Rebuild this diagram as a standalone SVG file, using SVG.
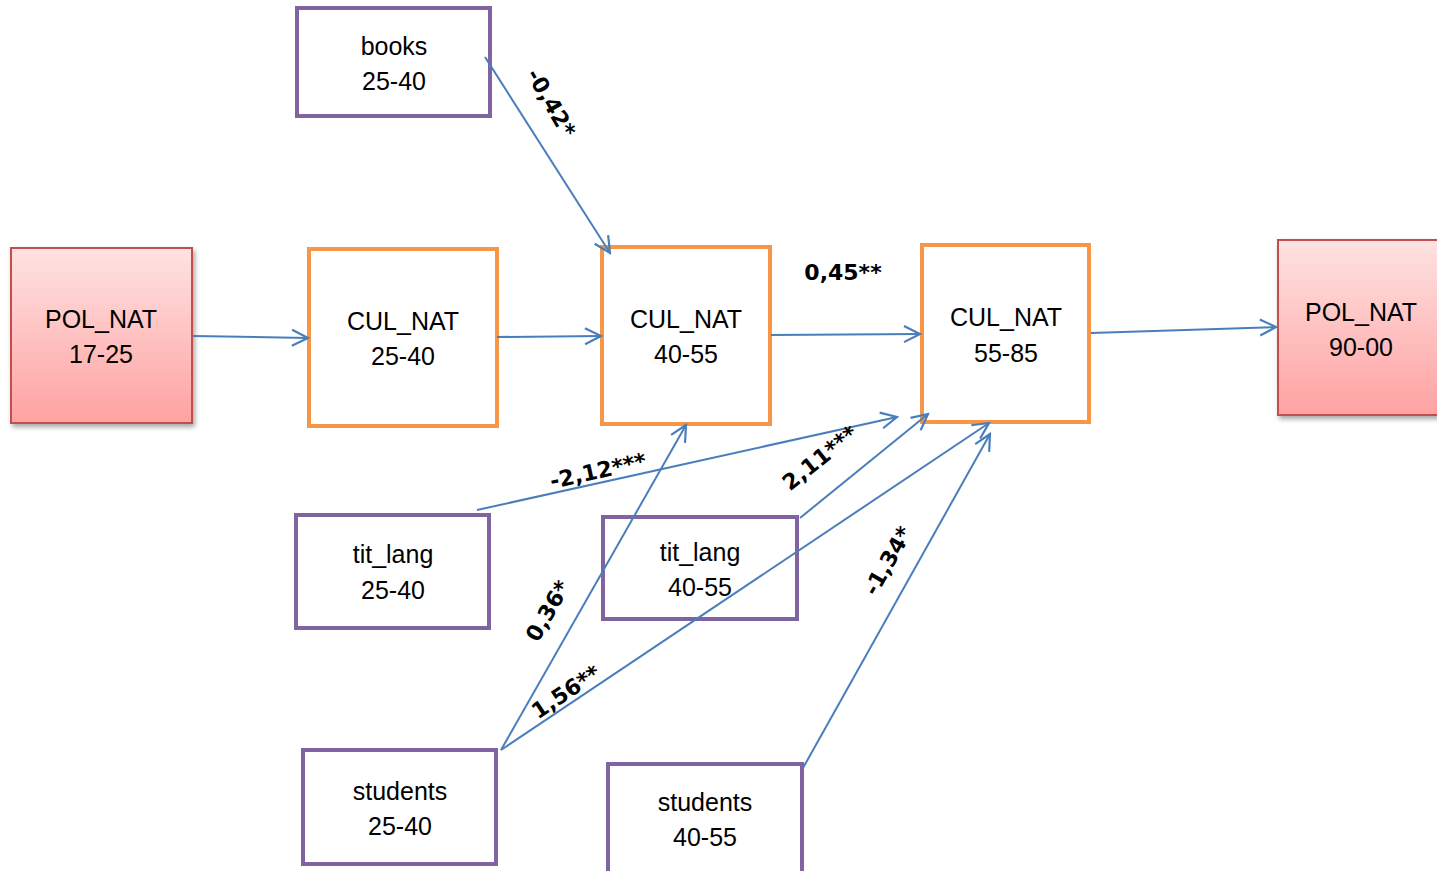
<svg xmlns="http://www.w3.org/2000/svg" width="1437" height="871" viewBox="0 0 1437 871">
<defs>
<linearGradient id="redGrad" x1="0" y1="0" x2="0" y2="1">
<stop offset="0" stop-color="#FFE2E2"/>
<stop offset="1" stop-color="#FFA2A2"/>
</linearGradient>
<filter id="shadow" x="-20%" y="-20%" width="140%" height="140%">
<feDropShadow dx="2" dy="3" stdDeviation="2.5" flood-color="#000" flood-opacity="0.35"/>
</filter>
<marker id="arrL" viewBox="0 0 20 20" refX="18" refY="10" markerWidth="20" markerHeight="20" markerUnits="userSpaceOnUse" orient="auto">
<path d="M2,2 L18,10 L2,18" fill="none" stroke="#4A7EBB" stroke-width="2.2"/>
</marker>
</defs>
<style>
.red{fill:url(#redGrad);stroke:#C0504D;stroke-width:2;filter:url(#shadow)}
.org{fill:#fff;stroke:#F79646;stroke-width:4}
.pur{fill:#fff;stroke:#8064A2;stroke-width:4}
.t{font-family:"Liberation Sans",Arial,sans-serif;font-size:25px;fill:#000;text-anchor:middle}
.c{fill:none;stroke:#4A7EBB;stroke-width:2;marker-end:url(#arrL)}
.l{font-family:"DejaVu Sans",sans-serif;font-size:22px;font-weight:bold;fill:#000;text-anchor:middle;dominant-baseline:central}
</style>
<rect width="1437" height="871" fill="#fff"/>

<g id="pol_nat_17_25">
<rect class="red" x="11" y="248" width="181" height="175"/>
<text class="t" x="101" y="328">POL_NAT</text>
<text class="t" x="101" y="363">17-25</text>
</g>
<g id="cul_nat_25_40">
<rect class="org" x="309" y="249" width="188" height="177"/>
<text class="t" x="403" y="330">CUL_NAT</text>
<text class="t" x="403" y="365">25-40</text>
</g>
<g id="cul_nat_40_55">
<rect class="org" x="602" y="247" width="168" height="177"/>
<text class="t" x="686" y="328">CUL_NAT</text>
<text class="t" x="686" y="363">40-55</text>
</g>
<g id="cul_nat_55_85">
<rect class="org" x="922" y="245" width="167" height="177"/>
<text class="t" x="1006" y="326">CUL_NAT</text>
<text class="t" x="1006" y="362">55-85</text>
</g>
<g id="pol_nat_90_00">
<rect class="red" x="1278" y="240" width="170" height="175"/>
<text class="t" x="1361" y="321">POL_NAT</text>
<text class="t" x="1361" y="356">90-00</text>
</g>
<g id="books_25_40">
<rect class="pur" x="297" y="8" width="193" height="108"/>
<text class="t" x="394" y="55">books</text>
<text class="t" x="394" y="90">25-40</text>
</g>
<g id="tit_lang_25_40">
<rect class="pur" x="296" y="515" width="193" height="113"/>
<text class="t" x="393" y="563">tit_lang</text>
<text class="t" x="393" y="599">25-40</text>
</g>
<g id="tit_lang_40_55">
<rect class="pur" x="603" y="517" width="194" height="102"/>
<text class="t" x="700" y="561">tit_lang</text>
<text class="t" x="700" y="596">40-55</text>
</g>
<g id="students_25_40">
<rect class="pur" x="303" y="750" width="193" height="114"/>
<text class="t" x="400" y="800">students</text>
<text class="t" x="400" y="835">25-40</text>
</g>
<g id="students_40_55">
<rect class="pur" x="608" y="764" width="194" height="112"/>
<text class="t" x="705" y="811">students</text>
<text class="t" x="705" y="846">40-55</text>
</g>

<g id="connectors">
<line class="c" x1="193" y1="336" x2="308" y2="338"/>
<line class="c" x1="497" y1="337" x2="601" y2="336"/>
<line class="c" x1="771" y1="335" x2="920" y2="334"/>
<line class="c" x1="1091" y1="333" x2="1276" y2="327"/>
<line class="c" x1="485" y1="57" x2="610" y2="253"/>
<line class="c" x1="477" y1="510" x2="897" y2="417"/>
<line class="c" x1="800" y1="518" x2="928" y2="414"/>
<line class="c" x1="501" y1="750" x2="686" y2="425"/>
<line class="c" x1="501" y1="750" x2="989" y2="423"/>
<line class="c" x1="803" y1="768" x2="990" y2="434"/>
</g>

<g id="labels">
<text class="l" transform="translate(551,103) rotate(60)">-0,42*</text>
<text class="l" x="843" y="272">0,45**</text>
<text class="l" transform="translate(598,471) rotate(-12.4)">-2,12***</text>
<text class="l" transform="translate(820,458) rotate(-38.5)">2,11***</text>
<text class="l" transform="translate(548,611) rotate(-60)">0,36*</text>
<text class="l" transform="translate(566,692) rotate(-33.7)">1,56**</text>
<text class="l" transform="translate(888,561) rotate(-60.5)">-1,34*</text>
</g>
</svg>
